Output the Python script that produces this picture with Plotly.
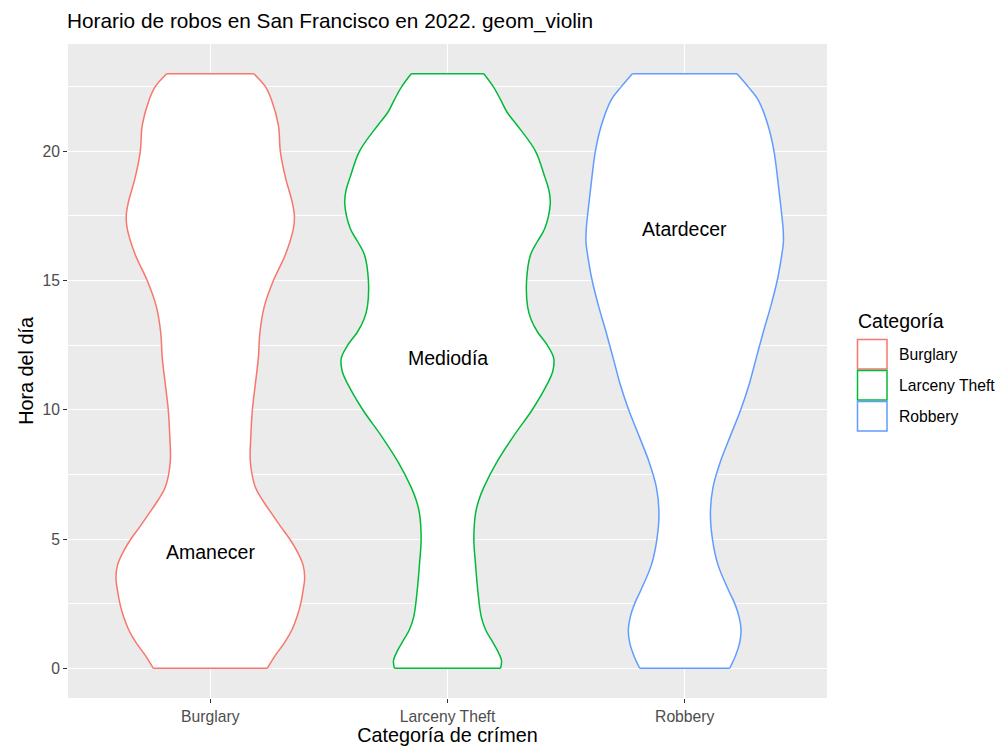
import plotly.graph_objects as go

# ---- data ----
categories = ["Burglary", "Larceny Theft", "Robbery"]
colors = ["#F8766D", "#00BA38", "#619CFF"]

burglary_hours = [0, 0.5, 1, 1.5, 2, 2.5, 3, 3.5, 4, 4.5, 5, 5.5, 6, 6.5, 7, 8, 9, 10, 11, 12, 13,
                  14, 15, 16, 17, 17.5, 18, 19, 20, 21, 22, 22.5, 23]
burglary_density = [0.534, 0.609, 0.697, 0.766, 0.813, 0.847, 0.869, 0.884, 0.869, 0.816, 0.744,
                    0.656, 0.572, 0.490, 0.422, 0.375, 0.380, 0.394, 0.422, 0.450, 0.465, 0.506,
                    0.591, 0.703, 0.778, 0.788, 0.769, 0.703, 0.656, 0.638, 0.572, 0.516, 0.408]

larceny_hours = [0, 0.3, 0.7, 1, 1.5, 2, 3, 4, 5, 6, 6.5, 7, 8, 9, 10, 11, 11.5, 12, 12.5, 13, 13.5,
                 14, 15, 16, 16.5, 17, 18, 18.5, 19, 20, 21, 21.5, 22, 22.5, 23]
larceny_density = [0.497, 0.506, 0.466, 0.425, 0.356, 0.316, 0.284, 0.263, 0.247, 0.263, 0.293,
                   0.340, 0.466, 0.622, 0.794, 0.935, 0.987, 0.995, 0.935, 0.845, 0.782, 0.750,
                   0.741, 0.778, 0.841, 0.910, 0.963, 0.950, 0.912, 0.825, 0.654, 0.560, 0.497,
                   0.429, 0.340]

robbery_hours = [0, 0.5, 1, 1.5, 2, 2.5, 3, 4, 5, 6, 7, 8, 9, 10, 11, 12, 13, 14, 15, 16, 16.5, 17,
                 18, 19, 20, 21, 22, 22.5, 23]
robbery_density = [0.422, 0.478, 0.516, 0.528, 0.509, 0.469, 0.413, 0.312, 0.260, 0.241, 0.265,
                   0.335, 0.429, 0.525, 0.605, 0.670, 0.736, 0.806, 0.867, 0.910, 0.925, 0.922,
                   0.897, 0.869, 0.837, 0.781, 0.687, 0.594, 0.490]

labels = ["Amanecer", "Mediodía", "Atardecer"]
label_hours = [4.5, 12, 17]

y_ticks = [0, 5, 10, 15, 20]

hours_list = [burglary_hours, larceny_hours, robbery_hours]
dens_list = [burglary_density, larceny_density, robbery_density]

MAX_HALF = 0.45  # ggplot default violin width 0.9
FONT = "Liberation Sans, Arial, Helvetica, sans-serif"
LW = 1.5

# figure geometry (pixels)
W, H = 996, 746
ML, MR, MT, MB = 68, 169, 44, 48
PW, PH = W - ML - MR, H - MT - MB


def px_x(p):
    return (p - ML) / PW


def px_y(p):
    return (H - MB - p) / PH


fig = go.Figure()
for i, (cat, col, hrs, dens) in enumerate(zip(categories, colors, hours_list, dens_list)):
    pos = i + 1
    left_x = [pos - d * MAX_HALF for d in dens]
    right_x = [pos + d * MAX_HALF for d in dens]
    fig.add_trace(go.Scatter(
        x=left_x, y=hrs, mode="lines", showlegend=False, legendgroup=cat, name=cat,
        line=dict(color=col, width=LW, shape="spline", smoothing=1.0), hoverinfo="skip",
    ))
    fig.add_trace(go.Scatter(
        x=right_x, y=hrs, mode="lines", showlegend=False, legendgroup=cat, name=cat,
        line=dict(color=col, width=LW, shape="spline", smoothing=1.0),
        fill="tonextx", fillcolor="white", hoverinfo="skip",
    ))
    fig.add_trace(go.Scatter(
        x=[left_x[0], right_x[0], None, left_x[-1], right_x[-1]],
        y=[hrs[0], hrs[0], None, hrs[-1], hrs[-1]],
        mode="lines", showlegend=False, legendgroup=cat, name=cat,
        line=dict(color=col, width=LW), hoverinfo="skip",
    ))

for i, (lab, h) in enumerate(zip(labels, label_hours)):
    fig.add_annotation(x=i + 1, y=h, text=lab, showarrow=False,
                       font=dict(family=FONT, size=19.5, color="black"),
                       xanchor="center", yanchor="middle")

# ---- legend (ggplot-style outlined keys) ----
fig.add_annotation(xref="paper", yref="paper", x=px_x(856), y=px_y(321), text="Categoría",
                   showarrow=False, xanchor="left", yanchor="middle",
                   font=dict(family=FONT, size=19.5, color="black"))
key_top = 339.5
key_size = 29.5
key_gap = 1.5
for i, (cat, col) in enumerate(zip(categories, colors)):
    y0 = key_top + i * (key_size + key_gap)
    fig.add_shape(type="rect", xref="paper", yref="paper",
                  x0=px_x(857.5), x1=px_x(857.5 + key_size),
                  y0=px_y(y0 + key_size), y1=px_y(y0),
                  line=dict(color=col, width=LW), fillcolor="white")
    fig.add_annotation(xref="paper", yref="paper", x=px_x(897), y=px_y(y0 + key_size / 2),
                       text=cat, showarrow=False, xanchor="left", yanchor="middle",
                       font=dict(family=FONT, size=15.7, color="black"))

fig.update_layout(
    width=W, height=H,
    margin=dict(l=ML, r=MR, t=MT, b=MB, autoexpand=False),
    paper_bgcolor="white", plot_bgcolor="#EBEBEB",
    font=dict(family=FONT, color="black"),
    title=dict(text="Horario de robos en San Francisco en 2022. geom_violin",
               x=67 / W, xanchor="left", y=1 - 21 / H, yanchor="middle",
               font=dict(size=20.8, color="black", family=FONT)),
    showlegend=False,
    xaxis=dict(
        range=[0.4, 3.6], tickmode="array", tickvals=[1, 2, 3], ticktext=categories,
        showgrid=True, gridcolor="white", gridwidth=1.3, zeroline=False, automargin=False,
        ticks="outside", ticklen=4, tickcolor="#333333", tickwidth=1.1,
        tickfont=dict(size=15.7, color="#4D4D4D", family=FONT),
        title=dict(text="Categoría de crímen", font=dict(size=19.8, color="black", family=FONT),
                   standoff=4),
        showline=False, fixedrange=True,
    ),
    yaxis=dict(
        range=[-1.15, 24.15], tickmode="array", tickvals=y_ticks,
        showgrid=True, gridcolor="white", gridwidth=1.3, zeroline=False, automargin=False,
        minor=dict(dtick=2.5, tick0=0, showgrid=True, gridcolor="white", gridwidth=0.6, ticks=""),
        ticks="outside", ticklen=4, tickcolor="#333333", tickwidth=1.1,
        tickfont=dict(size=15.7, color="#4D4D4D", family=FONT),
        title=dict(text="Hora del día", font=dict(size=19.8, color="black", family=FONT),
                   standoff=3),
        showline=False, fixedrange=True,
    ),
)

fig.write_html("out.html", config={"displayModeBar": False},
               post_script="document.body.style.margin='0';document.body.style.overflow='hidden';")
